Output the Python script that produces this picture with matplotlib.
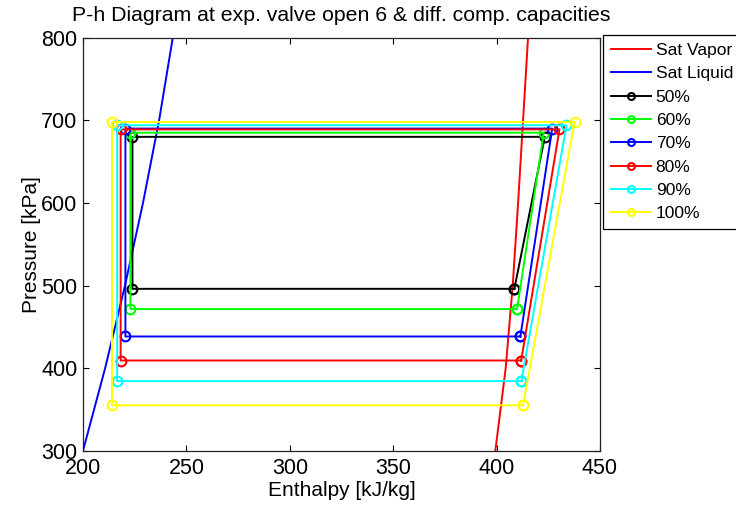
import numpy as np
import matplotlib
matplotlib.use('Agg')
from matplotlib import pyplot as plt

# saturation curves (pressure kPa -> enthalpy kJ/kg)
sat_p = [300, 400, 500, 600, 700, 800]
sat_vapor_h = [399.4, 404.4, 407.8, 410.4, 412.8, 415.2]
sat_liquid_h = [200.0, 210.7, 220.3, 229.0, 236.8, 243.4]

# cycle states for each compressor capacity
capacities = ['50%', '60%', '70%', '80%', '90%', '100%']
colors = ['black', '#00ff00', 'blue', 'red', 'cyan', 'yellow']
h_evap_out = [408.6, 409.9, 411.5, 411.9, 412.0, 412.8]
h_comp_out = [423.3, 422.8, 426.9, 430.4, 433.8, 437.7]
h_cond_out = [223.9, 222.9, 220.5, 218.2, 216.5, 214.0]
p_low = [496, 471.5, 438.3, 409.2, 384.3, 355]
p_high = [680, 685, 690, 689, 694, 698]

plt.rcParams['font.family'] = ['Liberation Sans', 'DejaVu Sans']
plt.rcParams['font.size'] = 12.5

fig = plt.figure(figsize=(7.36, 5.09), dpi=100)
ax = fig.add_axes([0.1128, 0.1145, 0.7024, 0.8114])

ax.plot(sat_vapor_h, sat_p, color='red', lw=1.4, label='Sat Vapor')
ax.plot(sat_liquid_h, sat_p, color='blue', lw=1.4, label='Sat Liquid')

for i in range(len(capacities)):
    h = [h_evap_out[i], h_comp_out[i], h_cond_out[i], h_cond_out[i], h_evap_out[i]]
    p = [p_low[i], p_high[i], p_high[i], p_low[i], p_low[i]]
    ax.plot(h, p, color=colors[i], lw=1.4, marker='o', ms=7, mfc='none',
            mew=1.5, label=capacities[i])

ax.set_xlim(200, 450)
ax.set_ylim(300, 800)
ax.set_xticks([200, 250, 300, 350, 400, 450])
ax.set_yticks([300, 400, 500, 600, 700, 800])
ax.tick_params(direction='in', length=4, width=0.8, top=True, right=True,
               labelsize=15.5)
ax.tick_params(axis='x', pad=5)
ax.tick_params(axis='y', pad=4)
for s in ax.spines.values():
    s.set_linewidth(0.9)
    s.set_color('#222222')

ax.set_title('P-h Diagram at exp. valve open 6 & diff. comp. capacities',
             fontsize=15.3, pad=12)
ax.set_xlabel('Enthalpy [kJ/kg]', fontsize=15, labelpad=2)
ax.set_ylabel('Pressure [kPa]', fontsize=15, labelpad=0)

leg = fig.legend(loc='upper left', bbox_to_anchor=(0.819, 0.931), fancybox=False,
                 framealpha=1, edgecolor='black', handlelength=2.3,
                 handletextpad=0.3, labelspacing=0.47, borderpad=0.45,
                 borderaxespad=0, fontsize=12.5)
leg.get_frame().set_linewidth(0.9)
for lh in leg.get_lines():
    lh.set_markersize(5)

fig.savefig('out.png', dpi=100)
